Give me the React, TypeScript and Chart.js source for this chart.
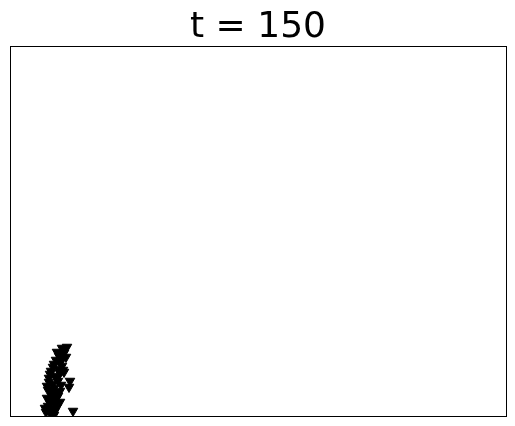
import React, { useEffect, useRef } from "react";
import { Chart, registerables } from "chart.js";
Chart.register(...registerables);

const titleText = "t = 150";
const xs = [52, 57, 47, 50, 54, 46, 50, 53, 43, 48, 52, 40, 45, 50, 54, 39, 43, 48, 51, 60, 59, 38, 42, 46, 50, 37, 41, 46, 50, 38, 42, 47, 36, 40, 45, 63, 55, 49, 44, 41, 39, 37, 44, 48, 45, 42, 47, 53, 56, 40, 35, 44];
const ys = [68, 69, 64, 61, 63, 56, 54, 58, 49, 47, 50, 42, 40, 43, 44, 34, 32, 35, 31, 35, 29, 26, 24, 23, 25, 18, 16, 17, 14, 10, 8, 9, 4, 3, 5, 5, 67, 60, 52, 45, 38, 30, 28, 20, 12, 20, 38, 46, 59, 13, 8, 1];

const boxPlugin = {
  id: "box",
  afterDraw(chart: any) {
    const { ctx, chartArea } = chart;
    ctx.save();
    ctx.strokeStyle = "#000";
    ctx.lineWidth = 1;
    ctx.strokeRect(Math.round(chartArea.left) + 0.5, Math.round(chartArea.top) + 0.5, Math.round(chartArea.right - chartArea.left), Math.round(chartArea.bottom - chartArea.top));
    ctx.restore();
  },
};

export default function App() {
  const ref = useRef<HTMLCanvasElement>(null);
  useEffect(() => {
    const chart = new Chart(ref.current!, {
      type: "scatter",
      data: {
        datasets: [
          {
            data: xs.map((x, i) => ({ x, y: ys[i] })),
            pointStyle: "triangle",
            rotation: 180,
            radius: 5.5,
            backgroundColor: "#000",
            borderColor: "#000",
            borderWidth: 1,
          },
        ],
      },
      options: {
        responsive: false,
        animation: false,
        layout: { padding: { left: 10, right: 9, bottom: 10, top: 0 } },
        scales: {
          x: { display: false, min: 0, max: 496 },
          y: { display: false, min: 0, max: 370 },
        },
        plugins: {
          legend: { display: false },
          tooltip: { enabled: false },
          title: {
            display: true,
            text: titleText,
            color: "#000",
            font: { family: "DejaVu Sans", size: 36, weight: "normal", lineHeight: 1.0 },
            padding: { top: 10, bottom: 0 },
          },
        },
      },
      plugins: [boxPlugin],
    });
    return () => chart.destroy();
  }, []);
  return (
    <div style={{ position: "fixed", left: 0, top: 0, width: 515, height: 426, background: "#fff" }}>
      <canvas ref={ref} width={515} height={426} />
    </div>
  );
}
